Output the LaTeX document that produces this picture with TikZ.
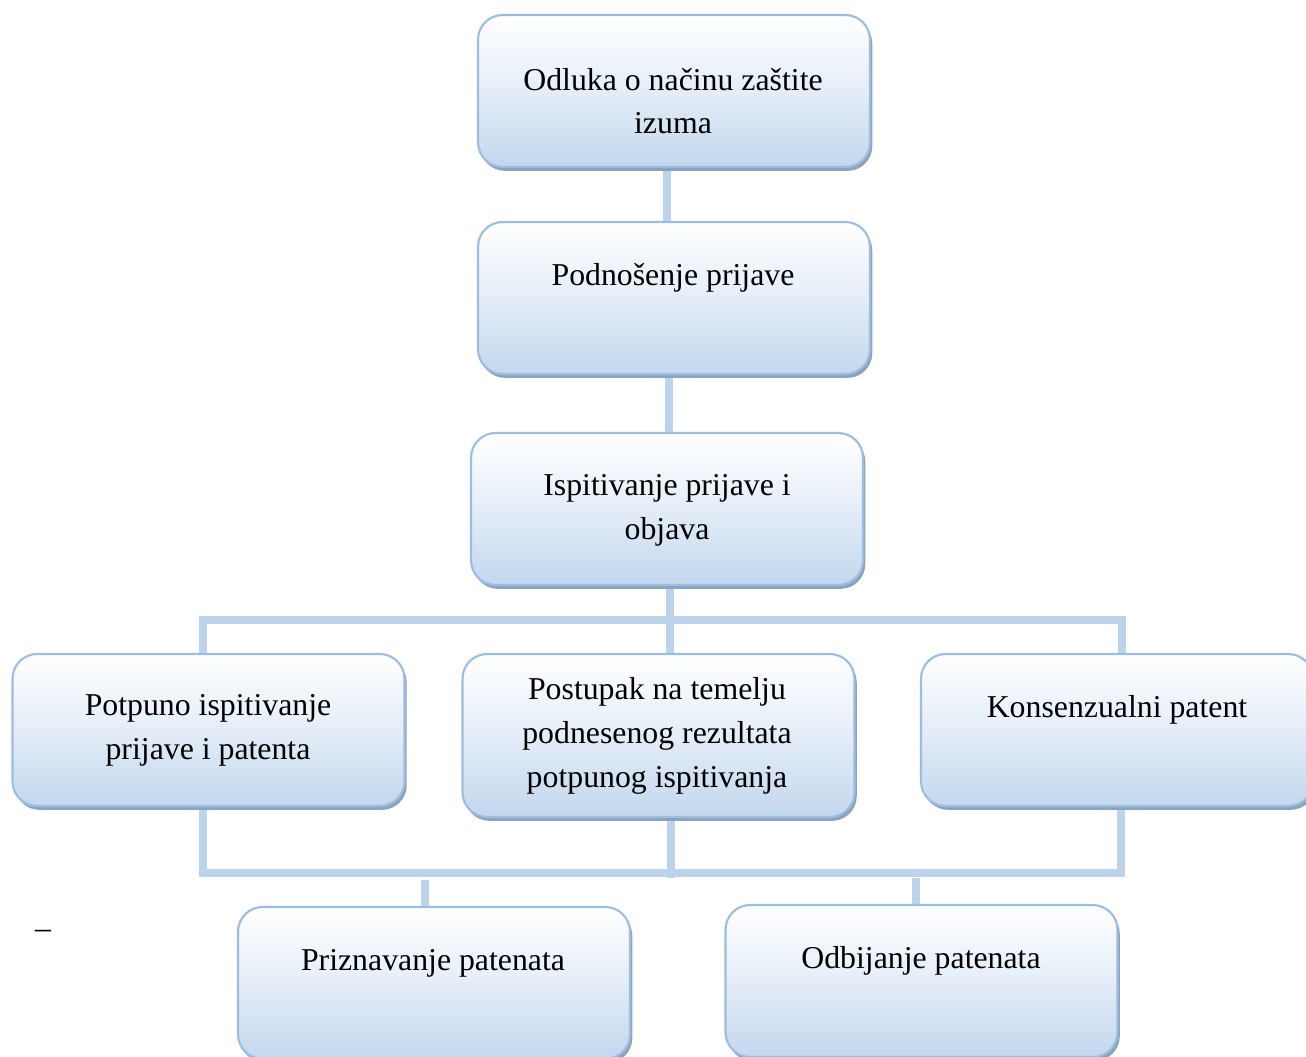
\documentclass[tikz,border=0pt]{standalone}
\usepackage{fontspec}
\setmainfont{Liberation Serif}
\usetikzlibrary{shadows,backgrounds,calc}
\definecolor{boxborder}{HTML}{9CBDE2}
\definecolor{boxbottom}{HTML}{C3D7EE}
\definecolor{boxshadow}{HTML}{8DA2BC}
\definecolor{connc}{HTML}{BCD3EC}
\tikzset{
  box/.style={rounded corners=14pt, draw=boxborder, line width=1.2pt,
    top color=white, bottom color=boxbottom, middle color=white!55!boxbottom,
    minimum width=7.84cm, minimum height=3.04cm, inner sep=0pt,
    drop shadow={shadow xshift=1.3pt, shadow yshift=-2.2pt, fill=boxshadow, opacity=1}},
  txt/.style={align=center, font=\fontsize{18.1}{24.9}\selectfont, inner sep=0pt},
  conn/.style={draw=connc, line width=4pt}
}
\begin{document}
\begin{tikzpicture}[x=0.02cm,y=-0.02cm]
\useasboundingbox (0,0) rectangle (1306,1057);
\clip (0,0) rectangle (1306,1057);
% boxes
\node[box] (b1) at (674,91) {};
\node[box] (b2) at (674,298) {};
\node[box] (b3) at (667,509) {};
\node[box] (b4) at (208.5,730) {};
\node[box, minimum height=3.26cm] (b5) at (658.5,735.5) {};
\node[box] (b6) at (1117,730) {};
\node[box] (b7) at (434,983) {};
\node[box] (b8) at (921.5,981) {};
% texts
\node[txt] (t1) at (673,101) {Odluka o načinu zaštite\\izuma};
\node[txt] (t2) at (673,278) {Podnošenje prijave};
\node[txt] (t3) at (667,510) {Ispitivanje prijave i\\objava};
\node[txt] (t4) at (208,730) {Potpuno ispitivanje\\prijave i patenta};
\node[txt] (t5) at (657,736) {Postupak na temelju\\podnesenog rezultata\\potpunog ispitivanja};
\node[txt] (t6) at (1117,710) {Konsenzualni patent};
\node[txt] (t7) at (433,963) {Priznavanje patenata};
\node[txt] (t8) at (921,961) {Odbijanje patenata};
\node[txt] (dash) at (43,934) {–};
% connectors
\coordinate (u1) at (670,620);
\coordinate (ul) at (203,620);
\coordinate (ur) at (1122,620);
\coordinate (l4) at (203,873);
\coordinate (l6) at (1121,873);
\coordinate (l5) at (671,878);
\coordinate (s7) at (425,880);
\coordinate (s8) at (916,878);
\begin{scope}[on background layer]
\draw[conn] ([xshift=-0.14cm]b1.south) -- ([xshift=-0.14cm]b1.south |- b2.north);
\draw[conn] ([xshift=-0.1cm]b2.south) -- ([xshift=-0.1cm]b2.south |- b3.north);
\draw[conn] (b3.south -| u1) -- (u1) -- (u1 |- b5.north);
\draw[conn] (ul |- b4.north) -- (ul) -- (ur) -- (ur |- b6.north);
\draw[conn] (l4 |- b4.south) -- (l4) -- (l6) -- (l6 |- b6.south);
\draw[conn] (l5 |- b5.south) -- (l5);
\draw[conn] (s7) -- (s7 |- b7.north);
\draw[conn] (s8) -- (s8 |- b8.north);
\end{scope}
\end{tikzpicture}
\end{document}
